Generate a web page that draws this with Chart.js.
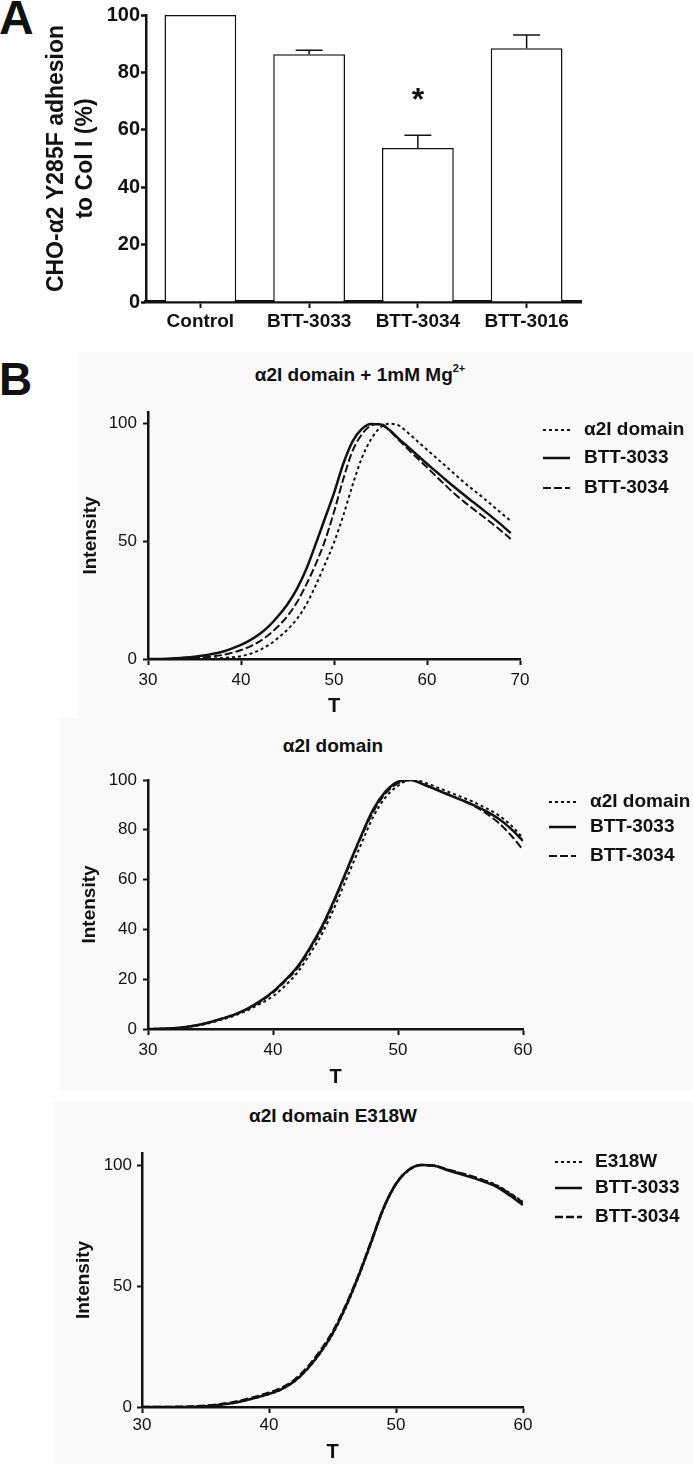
<!DOCTYPE html>
<html>
<head>
<meta charset="utf-8">
<script src="https://cdn.jsdelivr.net/npm/chart.js@4.4.1/dist/chart.umd.min.js"></script>
<style>
  body { margin: 0; width: 693px; height: 1464px; overflow: hidden; background: #fff; position: relative; font-family: "Liberation Sans", Arial, sans-serif; color: #111; }
  canvas, .txt, .bg { position: absolute; }
  .bg { background: #f9f9f9; }
  .txt { font-weight: bold; line-height: 1; white-space: nowrap; transform: translate(-50%, -50%); }
  .panel { position: absolute; font-weight: bold; line-height: 1; }
</style>
</head>
<body>
<div class="bg" style="left:77px;top:352px;width:616px;height:366px"></div>
<div class="bg" style="left:60px;top:718px;width:633px;height:372px"></div>
<div class="bg" style="left:53px;top:1102px;width:640px;height:362px"></div>

<div class="panel" style="left:-1px;top:-6px;font-size:48px">A</div>
<div class="panel" style="left:-1px;top:356px;font-size:46px">B</div>

<canvas id="adhesion" width="693" height="345" style="left:0;top:0"></canvas>

<div class="txt" style="left:360px;top:373px;font-size:19px">α2I domain + 1mM Mg<sup style="font-size:11px;vertical-align:9px">2+</sup></div>
<canvas id="meltMg" width="693" height="325" style="left:0;top:395px"></canvas>

<div class="txt" style="left:333px;top:745px;font-size:19px">α2I domain</div>
<canvas id="meltWt" width="693" height="330" style="left:0;top:760px"></canvas>

<div class="txt" style="left:333px;top:1115px;font-size:19px">α2I domain E318W</div>
<canvas id="meltE318W" width="693" height="333" style="left:0;top:1131px"></canvas>

<script>
// Panel A: adhesion bars
var barLabels = ['Control', 'BTT-3033', 'BTT-3034', 'BTT-3016'];
var barValues = [100, 86.3, 53.7, 88.4];
var barErrors = [0, 1.4, 4.4, 4.6];
var starValue = 72.8; // "*" over BTT-3034

// Panel B: melting curves, intensity vs T
var tempsMg = [30, 31, 32, 33, 34, 35, 36, 37, 38, 39, 40, 41, 42, 43, 44, 45, 46, 47, 48, 49,
  50, 51, 52, 53, 54, 55, 56, 57, 58, 59, 60, 61, 62, 63, 64, 65, 66, 67, 68, 69];
var mgDomain = [0, 0, 0, 0, 0, 0, 0.1, 0.2, 0.4, 0.7, 1.2, 2.2, 3.8, 6.0, 9.0, 12.5, 17.0, 23.0, 31.0, 40.0,
  49.5, 61.0, 74.0, 85.5, 93.5, 98.5, 100, 99.2, 96.0, 92.5, 89.0, 85.5, 82.0, 78.5, 75.0, 71.8, 68.7, 65.3, 62.0, 58.7];
var mg3033 = [0, 0, 0.1, 0.3, 0.6, 1.0, 1.5, 2.2, 3.1, 4.4, 6.0, 8.0, 10.6, 14.0, 18.3, 23.3, 29.7, 38.0, 48.5, 59.5,
  70.5, 83.0, 92.5, 97.8, 99.9, 99.7, 97.2, 93.5, 90.0, 86.5, 83.0, 79.6, 76.2, 72.9, 69.7, 66.6, 63.5, 60.3, 57.0, 53.5];
var mg3034 = [0, 0, 0, 0.1, 0.2, 0.4, 0.7, 1.1, 1.7, 2.6, 3.8, 5.4, 7.5, 10.3, 13.9, 18.3, 24.0, 31.5, 40.0, 50.0,
  62.5, 76.5, 88.5, 95.5, 99.3, 100, 97.0, 93.0, 89.0, 85.2, 81.5, 77.6, 73.8, 70.1, 66.8, 63.7, 60.7, 57.6, 54.4, 51.0];

var temps = [30, 31, 32, 33, 34, 35, 36, 37, 38, 39, 40, 41, 42, 43, 44, 45,
  46, 47, 48, 49, 50, 51, 52, 53, 54, 55, 56, 57, 58, 59, 60];
var wtDomain = [0, 0.1, 0.3, 0.7, 1.4, 2.5, 3.9, 5.5, 7.6, 10.2, 13.2, 17.5, 23.0, 30.5, 39.0, 49.8,
  61.8, 73.6, 85.0, 93.0, 97.7, 100, 99.2, 97.3, 95.3, 93.3, 91.3, 88.8, 86.0, 82.0, 76.6];
var wt3033 = [0, 0.1, 0.3, 0.8, 1.6, 2.8, 4.3, 6.0, 8.3, 11.3, 15.0, 19.7, 25.3, 33.0, 42.0, 53.0,
  65.0, 77.0, 88.0, 95.3, 99.3, 100, 98.3, 96.2, 94.1, 92.1, 90.0, 87.6, 84.6, 80.6, 75.6];
var wt3034 = [0, 0.1, 0.3, 0.8, 1.6, 2.8, 4.2, 5.9, 8.1, 11.0, 14.6, 19.3, 24.6, 32.3, 41.0, 52.3,
  64.5, 76.5, 87.0, 94.6, 98.7, 100, 98.4, 96.4, 94.3, 92.1, 89.8, 86.8, 83.0, 78.0, 72.0];

var e318w = [0, 0, 0, 0, 0.1, 0.3, 0.8, 1.5, 2.5, 3.8, 5.3, 7.3, 10.5, 15.5, 22.0, 30.0,
  40.5, 53.0, 67.0, 81.5, 92.0, 97.8, 100, 99.8, 98.2, 96.7, 95.2, 93.6, 91.5, 88.3, 84.8];
var e3033 = [0, 0, 0, 0, 0.1, 0.3, 0.8, 1.5, 2.6, 3.9, 5.4, 7.4, 10.6, 15.6, 22.2, 30.3,
  41.0, 53.5, 67.5, 82.0, 92.3, 98.0, 100, 99.7, 98.0, 96.4, 94.8, 93.0, 90.8, 87.3, 83.5];
var e3034 = [0, 0, 0, 0.1, 0.2, 0.5, 1.0, 1.8, 2.9, 4.3, 5.9, 8.0, 11.2, 16.3, 23.0, 31.0,
  41.5, 53.8, 67.8, 82.0, 92.3, 98.0, 100, 99.8, 98.3, 96.8, 95.3, 93.5, 91.2, 88.0, 84.5];

var ink = '#111';
var font = '"Liberation Sans", Arial, sans-serif';
Chart.defaults.font.family = font;
Chart.defaults.color = ink;
Chart.defaults.animation = false;

var errorBars = {
  id: 'errorBars',
  afterDatasetsDraw: function (chart) {
    var ctx = chart.ctx;
    var y = chart.scales.y;
    var bars = chart.getDatasetMeta(0).data;
    ctx.save();
    ctx.strokeStyle = ink;
    ctx.lineWidth = 1.5;
    bars.forEach(function (bar, i) {
      if (!barErrors[i]) return;
      var top = y.getPixelForValue(barValues[i] + barErrors[i]);
      ctx.beginPath();
      ctx.moveTo(bar.x, bar.y);
      ctx.lineTo(bar.x, top);
      ctx.moveTo(bar.x - 13.5, top);
      ctx.lineTo(bar.x + 13.5, top);
      ctx.stroke();
    });
    ctx.fillStyle = ink;
    ctx.font = 'bold 32px ' + font;
    ctx.textAlign = 'center';
    ctx.textBaseline = 'alphabetic';
    ctx.fillText('*', bars[2].x, y.getPixelForValue(starValue) + 17);
    ctx.restore();
  }
};

new Chart(document.getElementById('adhesion'), {
  type: 'bar',
  data: {
    labels: barLabels,
    datasets: [{
      data: barValues,
      backgroundColor: '#fff',
      borderColor: ink,
      borderWidth: 1.5,
      categoryPercentage: 1,
      barPercentage: 0.66
    }]
  },
  options: {
    responsive: false,
    layout: { padding: { left: 0, top: 15, right: 112, bottom: 0 } },
    plugins: { legend: { display: false }, tooltip: { enabled: false } },
    scales: {
      x: {
        z: 1,
        afterFit: function (scale) { scale.height = 43; },
        grid: { offset: false, drawOnChartArea: false, tickLength: 6, tickWidth: 2, tickColor: ink },
        border: { color: ink, width: 3.5 },
        ticks: { maxRotation: 0, padding: 2, color: ink, font: { size: 19, weight: 'bold' } }
      },
      y: {
        min: 0, max: 100,
        afterFit: function (scale) { scale.width = 146; },
        grid: { drawOnChartArea: false, tickLength: 5, tickWidth: 2.5, tickColor: ink },
        border: { color: ink, width: 2.5 },
        ticks: { stepSize: 20, padding: 1, color: ink, font: { size: 20, weight: 'bold' } },
        title: {
          display: true,
          text: ['CHO-α2 Y285F adhesion', 'to Col I (%)'],
          color: ink,
          padding: { top: 42.5, bottom: 0 },
          font: { size: 23, weight: 'bold', lineHeight: 1.26 }
        }
      }
    }
  },
  plugins: [errorBars]
});

// legend drawn at the right of each melt curve panel
var lineLegend = {
  id: 'lineLegend',
  afterDraw: function (chart, args, opts) {
    var ctx = chart.ctx;
    ctx.save();
    chart.data.datasets.forEach(function (ds, i) {
      var y = opts.rows[i];
      ctx.strokeStyle = ink;
      ctx.lineWidth = ds.borderWidth;
      ctx.setLineDash(ds.borderDash || []);
      ctx.beginPath();
      ctx.moveTo(opts.lineX, y);
      ctx.lineTo(opts.lineX + 27, y);
      ctx.stroke();
      ctx.setLineDash([]);
      ctx.fillStyle = ink;
      ctx.font = 'bold 19px ' + font;
      ctx.textBaseline = 'middle';
      ctx.fillText(ds.label, opts.textX, y);
    });
    ctx.restore();
  }
};

function points(xs, ys) {
  return xs.map(function (x, i) { return { x: x, y: ys[i] }; });
}

function curve(label, xs, ys, dash, width) {
  return {
    label: label,
    data: points(xs, ys),
    borderColor: ink,
    borderWidth: width,
    borderDash: dash,
    pointRadius: 0,
    fill: false,
    cubicInterpolationMode: 'monotone'
  };
}

function meltChart(id, cfg) {
  return new Chart(document.getElementById(id), {
    type: 'line',
    data: { datasets: cfg.datasets },
    options: {
      responsive: false,
      layout: { padding: { left: 0, top: cfg.top, right: cfg.right, bottom: 0 } },
      plugins: { legend: { display: false }, tooltip: { enabled: false }, lineLegend: cfg.legend },
      scales: {
        x: {
          type: 'linear', min: 30, max: cfg.xMax,
          afterFit: function (scale) { scale.height = cfg.xHeight; },
          grid: { drawOnChartArea: false, tickLength: 6, tickWidth: 2, tickColor: ink },
          border: { color: ink, width: 2.5 },
          ticks: { stepSize: 10, padding: cfg.xPad, color: ink, font: { size: 17 } },
          title: { display: true, text: 'T', color: ink, padding: { top: 0, bottom: cfg.tPad }, font: { size: 20, weight: 'bold' } }
        },
        y: {
          min: 0, max: cfg.yMax,
          afterFit: function (scale) { scale.width = cfg.yWidth; },
          grid: { drawOnChartArea: false, tickLength: 5, tickWidth: 2, tickColor: ink },
          border: { color: ink, width: 2.5 },
          ticks: { stepSize: cfg.yStep, includeBounds: false, padding: cfg.yPad, color: ink, font: { size: 17 } },
          title: { display: true, text: 'Intensity', color: ink, padding: { top: cfg.iPad, bottom: 0 }, font: { size: 19, weight: 'bold' } }
        }
      }
    },
    plugins: [lineLegend]
  });
}

meltChart('meltMg', {
  datasets: [
    curve('α2I domain', tempsMg, mgDomain, [3, 3], 2),
    curve('BTT-3033', tempsMg, mg3033, [], 2.5),
    curve('BTT-3034', tempsMg, mg3034, [8, 3], 2)
  ],
  top: 17, right: 173, xMax: 70, xHeight: 61, xPad: 5, tPad: 2,
  yMax: 105, yStep: 50, yWidth: 148, yPad: 6, iPad: 79.5,
  legend: { rows: [35, 63, 93], lineX: 543, textX: 584 }
});

meltChart('meltWt', {
  datasets: [
    curve('α2I domain', temps, wtDomain, [3, 3], 2),
    curve('BTT-3033', temps, wt3033, [], 2.5),
    curve('BTT-3034', temps, wt3034, [8, 3], 2)
  ],
  top: 20, right: 170, xMax: 60, xHeight: 61, xPad: 5, tPad: 1,
  yMax: 100, yStep: 20, yWidth: 148, yPad: 6, iPad: 78,
  legend: { rows: [42, 67, 96], lineX: 549, textX: 590 }
});

meltChart('meltE318W', {
  datasets: [
    curve('E318W', temps, e318w, [3, 3], 2),
    curve('BTT-3033', temps, e3033, [], 2.5),
    curve('BTT-3034', temps, e3034, [8, 3], 2.5)
  ],
  top: 22, right: 170, xMax: 60, xHeight: 57, xPad: 2.5, tPad: 0,
  yMax: 105, yStep: 50, yWidth: 142, yPad: 5, iPad: 72.5,
  legend: { rows: [31, 57, 86], lineX: 555, textX: 595 }
});
</script>
</body>
</html>
